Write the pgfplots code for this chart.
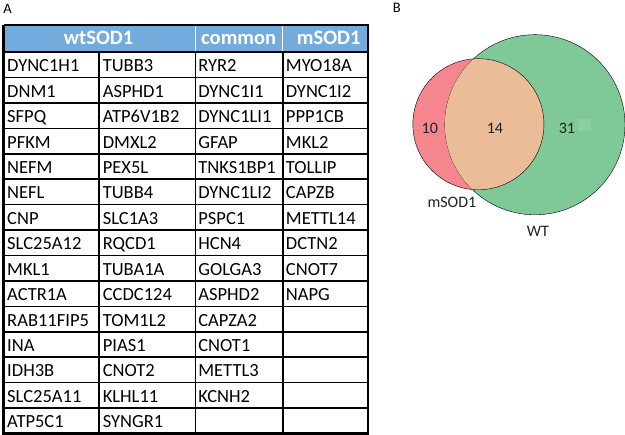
\documentclass[border=0pt]{standalone}
\usepackage{pgfplots}
\pgfplotsset{compat=1.18}
\usepackage{fontspec}
\setmainfont{Carlito}
\definecolor{hdr}{RGB}{116,171,221}
\definecolor{vred}{RGB}{245,134,141}
\definecolor{vgreen}{RGB}{127,201,153}
\definecolor{vgreen2}{RGB}{138,207,160}
\definecolor{vpeach}{RGB}{234,189,152}
\definecolor{vtext}{RGB}{34,34,34}
\newcommand{\cell}[3]{\node[anchor=base west, inner sep=0pt, font=\fontsize{18.5}{20}\selectfont] at (axis cs:#1,{52.5+25.4*(#2-0.5)+7}) {#3};}
\begin{document}
\begin{tikzpicture}
\begin{axis}[
 width=625pt, height=435pt, scale only axis,
 xmin=0, xmax=625, ymin=0, ymax=435, y dir=reverse,
 hide axis, clip=false, clip mode=individual,
 unbounded coords=jump,
]
% ---------------- table ----------------
\addplot[draw=none, fill=hdr] coordinates {(3,25) (367,25) (367,52.5) (3,52.5)};
% white header separators
\addplot[white, line width=1.2pt] coordinates {(195,25) (195,52.5) (nan,nan) (282,25) (282,52.5)};
% inner grid lines
\addplot[black, line width=1.6pt] coordinates {
(3,52.5) (367,52.5) (nan,nan)
(3,77.9) (367,77.9) (nan,nan)
(3,103.3) (367,103.3) (nan,nan)
(3,128.7) (367,128.7) (nan,nan)
(3,154.1) (367,154.1) (nan,nan)
(3,179.5) (367,179.5) (nan,nan)
(3,204.9) (367,204.9) (nan,nan)
(3,230.3) (367,230.3) (nan,nan)
(3,255.7) (367,255.7) (nan,nan)
(3,281.1) (367,281.1) (nan,nan)
(3,306.5) (367,306.5) (nan,nan)
(3,331.9) (367,331.9) (nan,nan)
(3,357.3) (367,357.3) (nan,nan)
(3,382.7) (367,382.7) (nan,nan)
(3,408.1) (367,408.1) (nan,nan)
(98.5,52.5) (98.5,433.5) (nan,nan)
(195,52.5) (195,433.5) (nan,nan)
(282.5,52.5) (282.5,433.5)
};
% outer border
\addplot[black, line width=2.2pt] coordinates {(3,25) (367,25) (367,433.5) (3,433.5) (3,25)};
% header text
\node[anchor=base, text=white, font=\fontsize{20.5}{22}\selectfont\bfseries] at (axis cs:98,45) {wtSOD1};
\node[anchor=base, text=white, font=\fontsize{20.5}{22}\selectfont\bfseries] at (axis cs:238,45) {common};
\node[anchor=base, text=white, font=\fontsize{20.5}{22}\selectfont\bfseries] at (axis cs:328,45) {mSOD1};
% column 1
\cell{6.5}{1}{DYNC1H1}
\cell{6.5}{2}{DNM1}
\cell{6.5}{3}{SFPQ}
\cell{6.5}{4}{PFKM}
\cell{6.5}{5}{NEFM}
\cell{6.5}{6}{NEFL}
\cell{6.5}{7}{CNP}
\cell{6.5}{8}{SLC25A12}
\cell{6.5}{9}{MKL1}
\cell{6.5}{10}{ACTR1A}
\cell{6.5}{11}{RAB11FIP5}
\cell{6.5}{12}{INA}
\cell{6.5}{13}{IDH3B}
\cell{6.5}{14}{SLC25A11}
\cell{6.5}{15}{ATP5C1}
% column 2
\cell{102}{1}{TUBB3}
\cell{102}{2}{ASPHD1}
\cell{102}{3}{ATP6V1B2}
\cell{102}{4}{DMXL2}
\cell{102}{5}{PEX5L}
\cell{102}{6}{TUBB4}
\cell{102}{7}{SLC1A3}
\cell{102}{8}{RQCD1}
\cell{102}{9}{TUBA1A}
\cell{102}{10}{CCDC124}
\cell{102}{11}{TOM1L2}
\cell{102}{12}{PIAS1}
\cell{102}{13}{CNOT2}
\cell{102}{14}{KLHL11}
\cell{102}{15}{SYNGR1}
% column 3
\cell{197.5}{1}{RYR2}
\cell{197.5}{2}{DYNC1I1}
\cell{197.5}{3}{DYNC1LI1}
\cell{197.5}{4}{GFAP}
\cell{197.5}{5}{TNKS1BP1}
\cell{197.5}{6}{DYNC1LI2}
\cell{197.5}{7}{PSPC1}
\cell{197.5}{8}{HCN4}
\cell{197.5}{9}{GOLGA3}
\cell{197.5}{10}{ASPHD2}
\cell{197.5}{11}{CAPZA2}
\cell{197.5}{12}{CNOT1}
\cell{197.5}{13}{METTL3}
\cell{197.5}{14}{KCNH2}
% column 4
\cell{285}{1}{MYO18A}
\cell{285}{2}{DYNC1I2}
\cell{285}{3}{PPP1CB}
\cell{285}{4}{MKL2}
\cell{285}{5}{TOLLIP}
\cell{285}{6}{CAPZB}
\cell{285}{7}{METTL14}
\cell{285}{8}{DCTN2}
\cell{285}{9}{CNOT7}
\cell{285}{10}{NAPG}
% panel labels
\node[anchor=base, font=\fontsize{14.5}{16}\selectfont] at (axis cs:7,14) {A};
\node[anchor=base, font=\fontsize{14.5}{16}\selectfont] at (axis cs:396,13) {B};
% ---------------- Venn ----------------
\addplot[only marks, mark=*, mark size=65.5, mark options={fill=vred, draw=none}] coordinates {(477.5,124.5)};
\addplot[only marks, mark=*, mark size=90, mark options={fill=vgreen, draw=none}] coordinates {(534,125)};
\begin{scope}
\clip (axis cs:534,125) circle [radius=90pt];
\addplot[only marks, mark=*, mark size=65.5, mark options={fill=vpeach, draw=none}] coordinates {(477.5,124.5)};
\end{scope}
\addplot[draw=none, fill=vgreen2] coordinates {(577,119) (590,119) (590,131) (577,131)};
\node[anchor=base, text=vtext, font=\fontsize{16}{18}\selectfont] at (axis cs:429,134) {10};
\node[anchor=base, text=vtext, font=\fontsize{16}{18}\selectfont] at (axis cs:494,134) {14};
\node[anchor=base, text=vtext, font=\fontsize{16}{18}\selectfont] at (axis cs:566,134) {31};
\node[anchor=base, text=vtext, font=\fontsize{16}{18}\selectfont] at (axis cs:451,207.5) {mSOD1};
\node[anchor=base, text=vtext, font=\fontsize{16}{18}\selectfont] at (axis cs:537,236.5) {WT};
\end{axis}
\end{tikzpicture}
\end{document}
